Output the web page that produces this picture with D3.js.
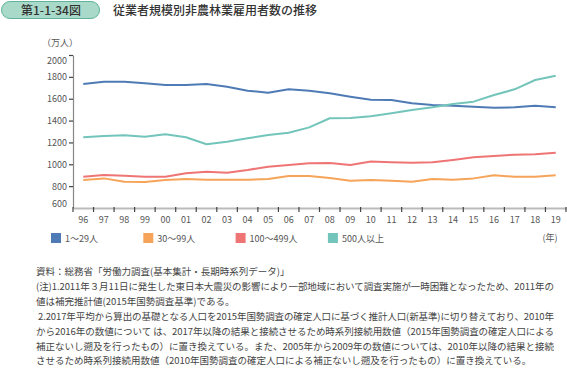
<!DOCTYPE html>
<html>
<head>
<meta charset="utf-8">
<script src="https://cdn.jsdelivr.net/npm/d3@7"></script>
<style>
  body { margin: 0; background: #fff; }
  svg text { font-family: "Noto Sans CJK JP", "Noto Sans", sans-serif; }
</style>
</head>
<body>
<svg id="chart"></svg>
<script>
const years = ["96", "97", "98", "99", "00", "01", "02", "03", "04", "05", "06", "07",
               "08", "09", "10", "11", "12", "13", "14", "15", "16", "17", "18", "19"];

const small = [1734, 1756, 1756, 1741, 1725, 1725, 1734, 1710, 1673, 1655, 1686, 1673,
               1649, 1618, 1591, 1588, 1558, 1542, 1536, 1527, 1518, 1521, 1536, 1521];
const mid = [856, 871, 841, 838, 856, 865, 859, 859, 859, 865, 893, 893,
             874, 850, 856, 850, 841, 865, 859, 871, 899, 886, 886, 899];
const large = [886, 902, 896, 886, 886, 917, 932, 923, 948, 978, 993, 1009,
               1012, 993, 1025, 1018, 1015, 1018, 1039, 1064, 1076, 1088, 1091, 1106];
const huge = [1247, 1259, 1265, 1253, 1274, 1247, 1183, 1207, 1238, 1268, 1289, 1338,
              1421, 1423, 1439, 1466, 1497, 1521, 1551, 1573, 1634, 1686, 1771, 1810];

const seriesNames = ["1～29人", "30～99人", "100～499人", "500人以上"];
const seriesValues = [small, mid, large, huge];
const colors = ["#4e7bb5", "#f6a459", "#ef7575", "#73c5bb"];

const yTicks = [600, 800, 1000, 1200, 1400, 1600, 1800, 2000];

// [text, justified to full width]
const notes = [
    ["資料：総務省「労働力調査(基本集計・長期時系列データ)」", false],
    ["(注)1.2011年３月11日に発生した東日本大震災の影響により一部地域において調査実施が一時困難となったため、2011年の", true],
    ["値は補完推計値(2015年国勢調査基準)である。", false],
    [" 2.2017年平均から算出の基礎となる人口を2015年国勢調査の確定人口に基づく推計人口(新基準)に切り替えており、2010年", true],
    ["から2016年の数値について は、2017年以降の結果と接続させるため時系列接続用数値（2015年国勢調査の確定人口による", true],
    ["補正ないし遡及を行ったもの）に置き換えている。また、2005年から2009年の数値については、2010年以降の結果と接続", true],
    ["させるため時系列接続用数値（2010年国勢調査の確定人口による補正ないし遡及を行ったもの）に置き換えている。", false]
];

function main() {
    const width = 567;
    const height = 368;
    const svg = d3.select("#chart").attr("width", width).attr("height", height);

    drawHeader(svg);

    const x = d3.scaleBand().domain(years).range([73, 566]);
    const y = d3.scaleLinear().domain([600, 2000]).range([208, 55]);

    // y axis
    const yAxis = svg.append("g")
        .attr("transform", "translate(73,0)")
        .call(d3.axisLeft(y).tickValues(yTicks).tickFormat(d3.format("d")).tickSize(4).tickSizeOuter(0));
    yAxis.select(".domain").attr("stroke", "#888").attr("stroke-width", 1.2);
    yAxis.selectAll(".tick line").attr("stroke", "#444").attr("stroke-width", 1.2);
    yAxis.selectAll(".tick text")
        .attr("fill", "#555").attr("font-size", 9).attr("x", -6)
        .attr("dy", d => d === 2000 ? "0.9em" : d === 600 ? "-0.2em" : "0.32em");
    yAxis.selectAll(".tick").filter(d => d === 600).select("line").remove();

    // x axis
    const xAxis = svg.append("g")
        .attr("transform", "translate(0,208)")
        .call(d3.axisBottom(x).tickSize(0).tickSizeOuter(0));
    xAxis.select(".domain").attr("stroke", "#bbb").attr("stroke-width", 2);
    xAxis.selectAll(".tick text").attr("fill", "#555").attr("font-size", 9).attr("y", 9);
    xAxis.selectAll(".sep")
        .data(years.concat(["end"]))
        .join("line")
        .attr("class", "sep")
        .attr("x1", (d, i) => i < years.length ? x(d) : x.range()[1])
        .attr("x2", (d, i) => i < years.length ? x(d) : x.range()[1])
        .attr("y1", -1).attr("y2", 4)
        .attr("stroke", "#444").attr("stroke-width", 1.2);

    // lines
    const line = d3.line()
        .x((d, i) => x(years[i]) + x.bandwidth() / 2)
        .y(d => y(d));

    svg.selectAll(".series")
        .data(seriesValues)
        .join("path")
        .attr("class", "series")
        .attr("fill", "none")
        .attr("stroke", (d, i) => colors[i])
        .attr("stroke-width", 2)
        .attr("stroke-linejoin", "round")
        .attr("d", line);

    svg.append("text")
        .attr("x", 60).attr("y", 46)
        .attr("text-anchor", "middle")
        .attr("font-size", 9).attr("fill", "#555")
        .text("（万人）");

    // legend
    const legend = svg.selectAll(".legend")
        .data(seriesNames)
        .join("g")
        .attr("class", "legend")
        .attr("transform", (d, i) => "translate(" + (51 + i * 92.3) + ",233)");
    legend.append("rect")
        .attr("width", 10).attr("height", 10)
        .attr("fill", (d, i) => colors[i]);
    legend.append("text")
        .attr("x", 14).attr("y", 8.5)
        .attr("font-size", 9).attr("fill", "#555")
        .text(d => d);

    svg.append("text")
        .attr("x", 550).attr("y", 241)
        .attr("text-anchor", "middle")
        .attr("font-size", 9).attr("fill", "#555")
        .text("(年)");

    // notes
    const noteText = svg.append("g")
        .selectAll("text")
        .data(notes)
        .join("text")
        .attr("x", 36)
        .attr("y", (d, i) => 275 + i * 14.9)
        .attr("font-size", 9.5)
        .attr("fill", "#444")
        .attr("xml:space", "preserve")
        .text(d => d[0]);
    noteText.filter(d => d[1])
        .attr("textLength", 518)
        .attr("lengthAdjust", "spacing");
}

function drawHeader(svg) {
    svg.append("rect")
        .attr("x", 1.5).attr("y", 1.5)
        .attr("width", 98).attr("height", 17)
        .attr("rx", 8.5)
        .attr("fill", "#a9d9c9").attr("stroke", "#5fb39c").attr("stroke-width", 1);
    svg.append("text")
        .attr("x", 51).attr("y", 14.5)
        .attr("text-anchor", "middle")
        .attr("font-size", 12).attr("font-weight", 500).attr("fill", "#333")
        .text("第1-1-34図");
    svg.append("text")
        .attr("x", 113).attr("y", 14.5)
        .attr("font-size", 12).attr("font-weight", 500).attr("fill", "#333")
        .text("従業者規模別非農林業雇用者数の推移");
}

main();
</script>
</body>
</html>
